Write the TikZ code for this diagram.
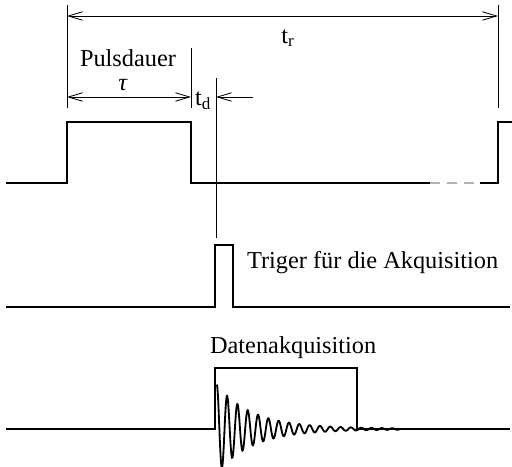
\documentclass[tikz,border=0pt]{standalone}
\usepackage{fontspec}
\setmainfont{Liberation Serif}
\usetikzlibrary{arrows.meta}

\tikzset{
  signal/.style={line width=1.4pt},
  dimline/.style={line width=0.6pt},
  dimarrow/.style={line width=0.6pt,{Straight Barb[length=10pt,width=6pt]}-{Straight Barb[length=10pt,width=6pt]}},
  label/.style={font=\fontsize{17.3}{20}\selectfont, inner sep=0pt}
}

\begin{document}
\begin{tikzpicture}[scale=1]
\useasboundingbox (0,0) rectangle (12.8,11.675);

% Pulse sequence
\draw[signal] (0.15,7.1) -- (1.675,7.1) -- (1.675,8.625) -- (4.775,8.625) -- (4.775,7.1) -- (10.75,7.1);
\draw[signal,gray!60,dash pattern=on 7pt off 5pt] (10.75,7.1) -- (12.0,7.1);
\draw[signal] (12.0,7.1) -- (12.45,7.1) -- (12.45,8.625) -- (12.8,8.625);

% Extension lines
\draw[dimline] (1.675,11.55) -- (1.675,8.975);
\draw[dimline] (12.45,11.55) -- (12.45,8.975);
\draw[dimline] (4.775,10.475) -- (4.775,8.975);
\draw[dimline] (5.4,9.725) -- (5.4,5.725);

% Repetition time
\coordinate (trl) at (1.675,11.275);
\coordinate (trr) at (12.45,11.275);
\draw[dimarrow] (trl) -- (trr);
\node[label] (tr) at (7.2,10.72) {t\textsubscript{r}};

% Pulse length
\coordinate (taul) at (1.675,9.25);
\coordinate (taur) at (4.775,9.25);
\draw[dimarrow] (taul) -- (taur);
\node[label] (puls) at (3.2,10.225) {Pulsdauer};
\node[label] (tau) at (3.08,9.55) {\textit{τ}};

% Delay
\coordinate (tdl) at (5.4,9.25);
\coordinate (tdr) at (6.33,9.25);
\draw[dimline,-{Straight Barb[length=10pt,width=6pt]}] (tdr) -- (tdl);
\node[label] (td) at (5.08,9.15) {t\textsubscript{d}};

% Trigger
\draw[signal] (0.15,4.0) -- (5.375,4.0) -- (5.375,5.55) -- (5.825,5.55) -- (5.825,4.0) -- (12.75,4.0);
\node[label,anchor=west] (trig) at (6.17,5.1) {Triger für die Akquisition};

% Acquisition window
\draw[signal] (0.15,0.95) -- (5.375,0.95) -- (5.375,2.475) -- (8.92,2.475) -- (8.92,0.95) -- (12.75,0.95);
\node[label] (daq) at (7.33,2.975) {Datenakquisition};

% FID
\draw[line width=1.3pt] plot[domain=5.42:10,samples=600] (\x,{0.95+(1.05*exp(-(\x-5.42)/0.85)+0.06*exp(-(\x-5.42)/3))*cos(360*(\x-5.42)/0.258)});

\end{tikzpicture}
\end{document}
